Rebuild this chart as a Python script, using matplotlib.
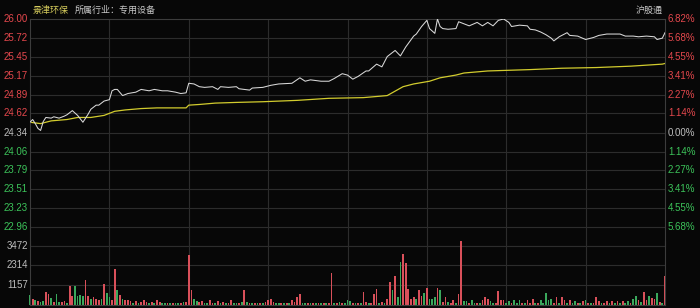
import matplotlib
matplotlib.use('Agg')
import matplotlib.pyplot as plt
from matplotlib.transforms import offset_copy

plt.rcParams['font.family'] = ['Liberation Sans', 'Noto Sans CJK SC', 'DejaVu Sans']

# --- data (minute 0 = 9:30, 240 = 15:00) ---
prev_close = 24.34
price_ticks = [26.00, 25.72, 25.45, 25.17, 24.89, 24.62, 24.34,
               24.06, 23.79, 23.51, 23.23, 22.96]
pct_labels = ['6.82%', '5.68%', '4.55%', '3.41%', '2.27%', '1.14%', '0.00%',
              '1.14%', '2.27%', '3.41%', '4.55%', '5.68%']
vol_ticks = [1157, 2314, 3472]

price_min = [0, 1, 2, 3, 4, 5, 6, 8, 9, 11, 13, 14, 16, 18, 20, 21, 22, 23, 24, 25,
             26, 28, 30, 31, 32, 33, 35, 37, 40, 42, 45, 47, 50, 52, 55, 57, 59, 60, 62, 64,
             66, 69, 71, 72, 75, 78, 79, 81, 83, 84, 88, 91, 94, 99, 102, 104, 106, 110, 113, 115,
             118, 120, 122, 124, 127, 128, 131, 133, 135, 138, 140, 142, 145, 146, 148, 150, 151, 153, 154, 155,
             156, 158, 161, 162, 164, 166, 169, 171, 173, 175, 177, 179, 181, 182, 185, 188, 189, 191, 193, 195,
             197, 198, 200, 203, 204, 207, 210, 213, 215, 218, 221, 223, 225, 228, 230, 233, 236, 237, 239, 240]
price = [24.49, 24.53, 24.47, 24.40, 24.37, 24.50, 24.56, 24.55, 24.57, 24.55,
         24.58, 24.60, 24.66, 24.59, 24.49, 24.55, 24.61, 24.68, 24.71, 24.74,
         24.74, 24.80, 24.82, 24.95, 24.97, 24.97, 24.88, 24.91, 24.93, 24.97,
         24.95, 24.97, 24.95, 24.95, 24.93, 24.91, 24.92, 25.06, 25.05, 25.01,
         25.00, 25.01, 24.97, 25.01, 25.00, 25.01, 24.98, 24.97, 24.96, 24.99,
         25.00, 25.03, 25.05, 25.06, 25.14, 25.09, 25.11, 25.09, 25.09, 25.13,
         25.20, 25.18, 25.12, 25.16, 25.24, 25.24, 25.34, 25.30, 25.45, 25.54,
         25.46, 25.59, 25.75, 25.78, 25.89, 25.98, 25.86, 25.79, 26.00, 25.89,
         25.86, 25.85, 25.86, 25.96, 25.93, 25.90, 25.95, 25.90, 25.95, 25.90,
         25.98, 26.00, 25.95, 25.89, 25.91, 25.90, 25.85, 25.84, 25.81, 25.77,
         25.72, 25.68, 25.74, 25.80, 25.76, 25.75, 25.70, 25.73, 25.76, 25.78,
         25.78, 25.78, 25.75, 25.75, 25.74, 25.75, 25.74, 25.70, 25.72, 25.80]

avg_min = [0, 4, 8, 14, 18, 23, 28, 32, 36, 42, 48, 59, 60, 64, 70, 78, 88, 101, 113, 126,
           135, 141, 145, 151, 155, 161, 164, 173, 189, 201, 214, 227, 239, 240]
avg_price = [24.49, 24.47, 24.51, 24.53, 24.56, 24.56, 24.59, 24.65, 24.67, 24.69,
             24.70, 24.70, 24.74, 24.75, 24.77, 24.78, 24.79, 24.81, 24.84, 24.85,
             24.88, 25.01, 25.05, 25.09, 25.14, 25.18, 25.21, 25.24, 25.26, 25.28,
             25.29, 25.31, 25.34, 25.35]

volume = [540, 340, 240, 200, 150, 200, 740, 640, 400, 150,
          640, 150, 120, 200, 100, 1080, 480, 1080, 480, 540,
          480, 1440, 480, 340, 440, 340, 280, 340, 1240, 680,
          440, 240, 2080, 880, 540, 340, 280, 280, 200, 100,
          200, 80, 150, 240, 150, 80, 150, 60, 240, 150,
          80, 100, 60, 80, 100, 60, 80, 100, 120, 150,
          2940, 840, 340, 200, 120, 200, 80, 100, 280, 100,
          80, 200, 100, 150, 60, 80, 240, 100, 60, 100,
          120, 840, 150, 60, 80, 60, 100, 80, 60, 120,
          280, 340, 150, 80, 60, 100, 80, 60, 100, 240,
          150, 440, 600, 100, 80, 60, 100, 80, 60, 80,
          100, 60, 80, 100, 1880, 100, 60, 150, 80, 100,
          280, 200, 80, 60, 100, 80, 740, 150, 80, 100,
          640, 940, 100, 150, 100, 340, 1340, 880, 1680, 440,
          2500, 3000, 2480, 940, 340, 440, 340, 880, 480, 680,
          1000, 340, 340, 440, 1000, 880, 150, 440, 150, 100,
          240, 100, 640, 3740, 200, 200, 100, 280, 100, 80,
          100, 240, 440, 340, 200, 100, 80, 800, 280, 240,
          100, 200, 100, 240, 100, 240, 80, 100, 240, 100,
          340, 80, 100, 240, 100, 680, 240, 340, 100, 440,
          100, 440, 240, 80, 240, 100, 200, 80, 100, 200,
          240, 80, 100, 80, 440, 200, 80, 100, 200, 80,
          200, 100, 200, 80, 200, 100, 200, 100, 340, 480,
          240, 150, 740, 240, 480, 400, 340, 680, 150, 100,
          1680]
vol_dir = ("grgrggrrgr" "ggrrgrrggg" "grrgrrrgrg" "grrgrgrrrg" "rgrrrgrgrr"
           "ggrgrggrgr" "rrggrrggrr" "grgrgrrggr" "grgrgrgrgr" "rrrggrgrgr"
           "rrrggrgrgr" "grgrrgrgrg" "ggrgrgrrgr" "rrgrgrrgrg" "grrrrrgrrg"
           "rgggrgrrgr" "rgrrggrggr" "grrrggrrrr" "ggrgggrgrr" "rgrgggggrr"
           "grrgrggrgr" "grgrrrgrrg" "rgrgrggrgg" "rgrrgrrgrg" "r")

# --- styling ---
BG = '#070707'
GRID = '#2c2c2c'
EDGE = '#3c3c3c'
RED_TXT = '#e5484d'
GRN_TXT = '#3cc35a'
NEU_TXT = '#bdbdbd'
RED_BAR = '#d9505a'
GRN_BAR = '#3aa85c'

W, H = 700, 308
fig = plt.figure(figsize=(7, 3.08), dpi=100, facecolor=BG)
ax = fig.add_axes([30 / W, 1 - 246 / H, 635 / W, 227 / H])
axv = fig.add_axes([30 / W, 1 - 304.5 / H, 635 / W, 63.5 / H])

for a in (ax, axv):
    a.set_facecolor('none')
    a.set_xlim(0, 240)
    a.set_xticks([])
    a.set_yticks([])
    for s in a.spines.values():
        s.set_color(EDGE)
        s.set_linewidth(0.8)
    for m in range(30, 240, 30):
        a.axvline(m, color=GRID, lw=0.8, zorder=0)

ax.set_ylim(22.68, 26.00)
ax.spines['bottom'].set_visible(False)
axv.spines['top'].set_visible(False)
axv.set_ylim(0, 3750)

for p in price_ticks[1:] + [22.68]:
    ax.axhline(p, color=GRID, lw=0.8, zorder=0)
for v in vol_ticks:
    axv.axhline(v, color=GRID, lw=0.8, zorder=0)

# price and average lines
ax.plot(price_min, price, color='#d9d9d9', lw=0.75, zorder=3)
ax.plot(avg_min, avg_price, color='#d2cc2e', lw=0.9, zorder=2)

# volume bars
colors = [RED_BAR if c == 'r' else GRN_BAR for c in vol_dir]
axv.bar(range(len(volume)), volume, width=0.65, color=colors, linewidth=0,
        antialiased=False, clip_on=False, zorder=2)

# axis labels
left_tr = offset_copy(ax.get_yaxis_transform(), fig=fig, x=-2, y=0, units='dots')
right_tr = offset_copy(ax.get_yaxis_transform(), fig=fig, x=3, y=0, units='dots')
for p, pct in zip(price_ticks, pct_labels):
    if p > prev_close + 0.001:
        c = RED_TXT
    elif p < prev_close - 0.001:
        c = GRN_TXT
    else:
        c = NEU_TXT
    ax.text(0, p, f'{p:.2f}', transform=left_tr, ha='right', va='center',
            fontsize=7, color=c)
    ax.text(1, p, pct, transform=right_tr, ha='left', va='center',
            fontsize=7, color=c)

vleft_tr = offset_copy(axv.get_yaxis_transform(), fig=fig, x=-2, y=0, units='dots')
for v in vol_ticks:
    axv.text(0, v, str(v), transform=vleft_tr, ha='right', va='center',
             fontsize=7, color=NEU_TXT)

# header
fig.text(33 / W, 1 - 10 / H, '景津环保', fontsize=6.5, color='#d6cc5c',
         family=['Noto Sans CJK SC'], va='center', ha='left')
fig.text(75 / W, 1 - 10 / H, '所属行业：专用设备', fontsize=6.5, color='#c8c8c8',
         family=['Noto Sans CJK SC'], va='center', ha='left')
fig.text(663 / W, 1 - 10 / H, '沪股通', fontsize=6.5, color='#c8c8c8',
         family=['Noto Sans CJK SC'], va='center', ha='right')

fig.savefig('out.png', dpi=100, facecolor=BG)
